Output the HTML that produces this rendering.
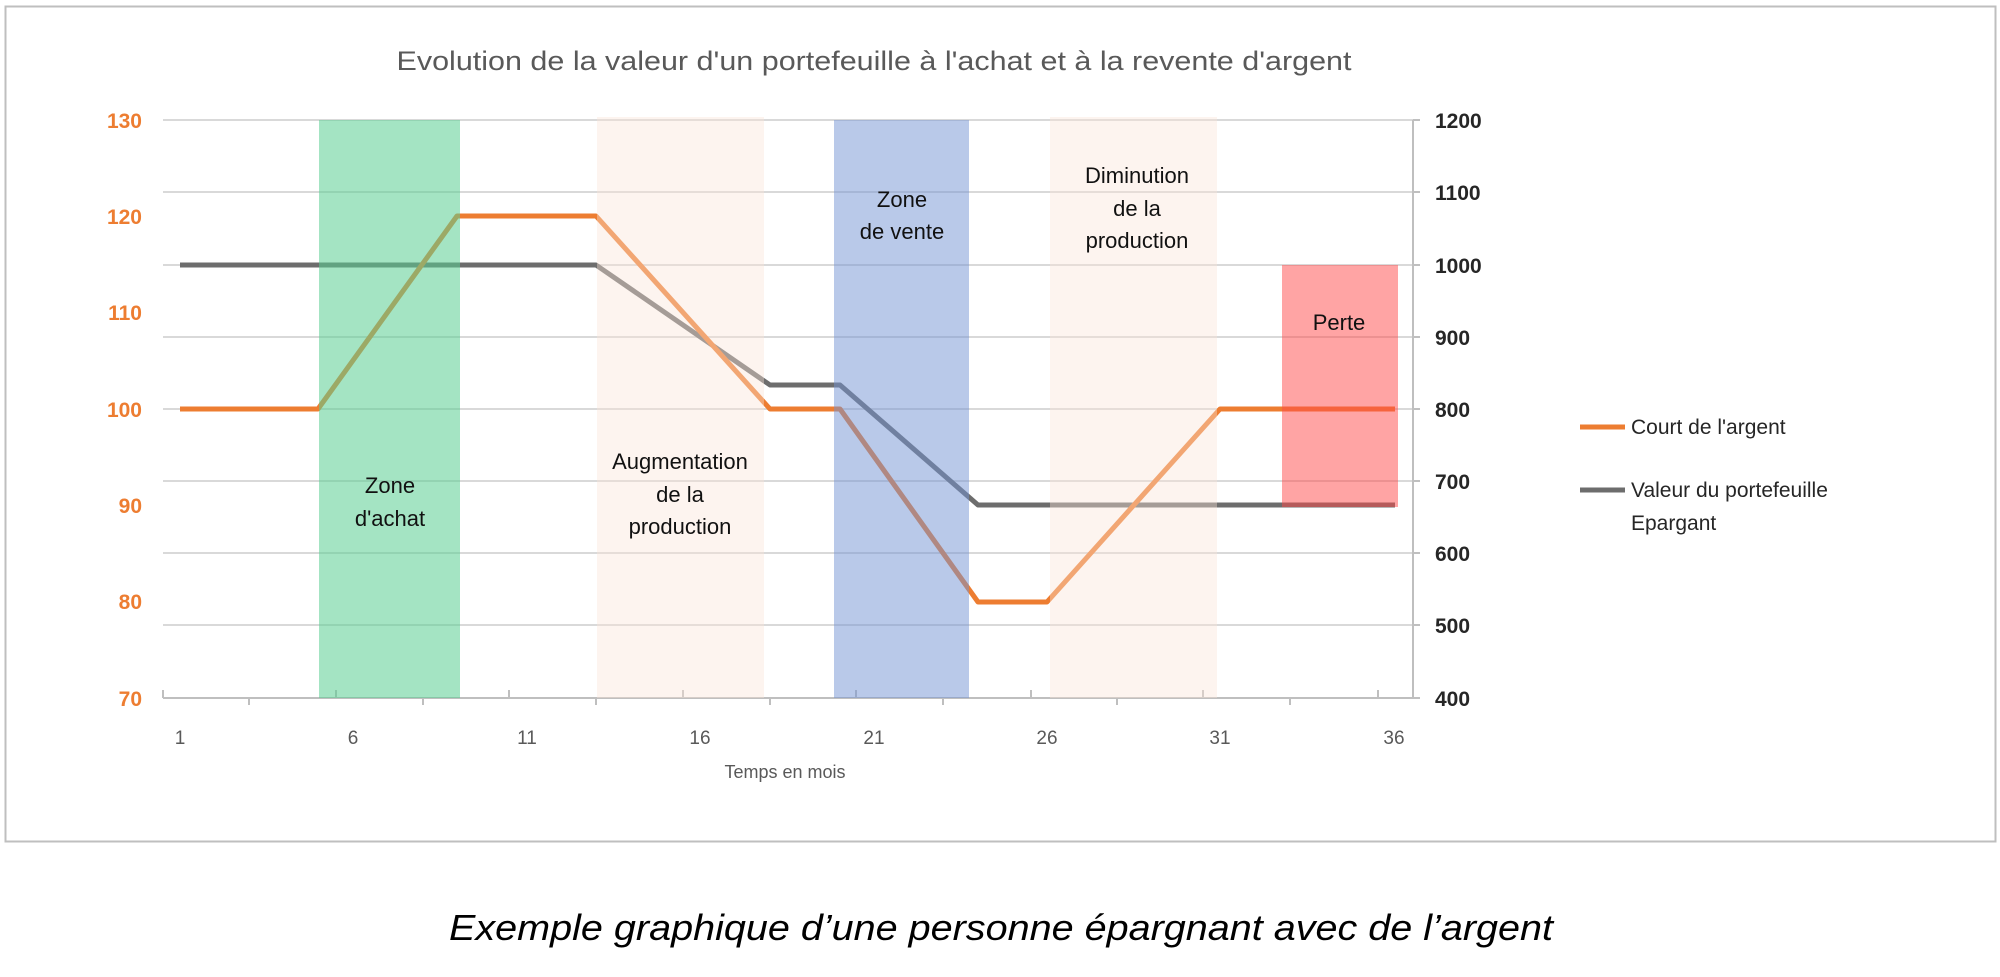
<!DOCTYPE html>
<html><head><meta charset="utf-8"><style>
html,body{margin:0;padding:0;background:#fff;}
svg{display:block;}
text{font-family:"Liberation Sans",sans-serif;}
</style></head><body>
<svg width="2000" height="977" viewBox="0 0 2000 977" xmlns="http://www.w3.org/2000/svg">
<rect x="5.5" y="6.5" width="1990" height="835" fill="#fff" stroke="#bfbfbf" stroke-width="2"/>
<text x="874" y="70" text-anchor="middle" font-size="27" fill="#595959" textLength="955" lengthAdjust="spacingAndGlyphs">Evolution de la valeur d'un portefeuille à l'achat et à la revente d'argent</text>
<g stroke="#d9d9d9" stroke-width="2">
<line x1="163" y1="120" x2="1413" y2="120"/>
<line x1="163" y1="192" x2="1413" y2="192"/>
<line x1="163" y1="265" x2="1413" y2="265"/>
<line x1="163" y1="337" x2="1413" y2="337"/>
<line x1="163" y1="409" x2="1413" y2="409"/>
<line x1="163" y1="481" x2="1413" y2="481"/>
<line x1="163" y1="553" x2="1413" y2="553"/>
<line x1="163" y1="625" x2="1413" y2="625"/>
</g>
<line x1="163" y1="698" x2="1413" y2="698" stroke="#bfbfbf" stroke-width="2"/>
<line x1="1413" y1="120" x2="1413" y2="698" stroke="#bfbfbf" stroke-width="2"/>
<g stroke="#bfbfbf" stroke-width="2">
<line x1="1413" y1="120" x2="1420" y2="120"/><line x1="1413" y1="192" x2="1420" y2="192"/><line x1="1413" y1="265" x2="1420" y2="265"/><line x1="1413" y1="337" x2="1420" y2="337"/><line x1="1413" y1="409" x2="1420" y2="409"/><line x1="1413" y1="481" x2="1420" y2="481"/><line x1="1413" y1="553" x2="1420" y2="553"/><line x1="1413" y1="625" x2="1420" y2="625"/><line x1="1413" y1="698" x2="1420" y2="698"/>
<line x1="163" y1="690" x2="163" y2="698"/><line x1="249" y1="698" x2="249" y2="705"/><line x1="336" y1="690" x2="336" y2="698"/><line x1="423" y1="698" x2="423" y2="705"/><line x1="509" y1="690" x2="509" y2="698"/><line x1="596" y1="698" x2="596" y2="705"/><line x1="683" y1="690" x2="683" y2="698"/><line x1="770" y1="698" x2="770" y2="705"/><line x1="856" y1="690" x2="856" y2="698"/><line x1="943" y1="698" x2="943" y2="705"/><line x1="1031" y1="690" x2="1031" y2="698"/><line x1="1117" y1="698" x2="1117" y2="705"/><line x1="1203" y1="690" x2="1203" y2="698"/><line x1="1290" y1="698" x2="1290" y2="705"/><line x1="1378" y1="690" x2="1378" y2="698"/>
</g>
<polyline fill="none" stroke="#6d6d6d" stroke-width="5" stroke-linejoin="round" points="180,265 596,265 770,385 840,385 978,505 1395,505"/>
<polyline fill="none" stroke="#ed7d31" stroke-width="5" stroke-linejoin="round" points="180,409 318,409 457,216 596,216 770,409 840,409 978,602 1047,602 1220,409 1395,409"/>
<rect x="319" y="120" width="141" height="578" fill="rgb(90,205,145)" opacity="0.55"/>
<rect x="597" y="117" width="167" height="581" fill="rgb(250,227,215)" opacity="0.4"/>
<rect x="834" y="120" width="135" height="578" fill="rgb(115,147,211)" opacity="0.5"/>
<rect x="1050" y="117" width="167" height="581" fill="rgb(250,227,215)" opacity="0.4"/>
<rect x="1282" y="265" width="116" height="242" fill="rgb(255,73,73)" opacity="0.5"/>
<g font-size="22" fill="#111" text-anchor="middle">
<text x="390" y="493">Zone</text><text x="390" y="526">d'achat</text>
<text x="680" y="469">Augmentation</text><text x="680" y="502">de la</text><text x="680" y="534">production</text>
<text x="902" y="207">Zone</text><text x="902" y="239">de vente</text>
<text x="1137" y="183">Diminution</text><text x="1137" y="216">de la</text><text x="1137" y="248">production</text>
<text x="1339" y="330">Perte</text>
</g>
<g font-size="21" font-weight="bold" fill="#ed7d31" text-anchor="end">
<text x="142" y="128">130</text><text x="142" y="224">120</text><text x="142" y="320">110</text><text x="142" y="417">100</text><text x="142" y="513">90</text><text x="142" y="609">80</text><text x="142" y="706">70</text>
</g>
<g font-size="21" font-weight="bold" fill="#262626">
<text x="1435" y="128">1200</text><text x="1435" y="200">1100</text><text x="1435" y="273">1000</text><text x="1435" y="345">900</text><text x="1435" y="417">800</text><text x="1435" y="489">700</text><text x="1435" y="561">600</text><text x="1435" y="633">500</text><text x="1435" y="706">400</text>
</g>
<g font-size="19" fill="#595959" text-anchor="middle">
<text x="180" y="744">1</text><text x="353" y="744">6</text><text x="527" y="744">11</text><text x="700" y="744">16</text><text x="874" y="744">21</text><text x="1047" y="744">26</text><text x="1220" y="744">31</text><text x="1394" y="744">36</text>
<text x="785" y="778" font-size="18">Temps en mois</text>
</g>
<line x1="1580" y1="427" x2="1625" y2="427" stroke="#ed7d31" stroke-width="5"/>
<text x="1631" y="434" font-size="21" fill="#262626">Court de l'argent</text>
<line x1="1580" y1="490" x2="1625" y2="490" stroke="#6d6d6d" stroke-width="5"/>
<text x="1631" y="497" font-size="21" fill="#262626">Valeur du portefeuille</text>
<text x="1631" y="530" font-size="21" fill="#262626">Epargant</text>
<text x="1001" y="940" text-anchor="middle" font-size="36" font-style="italic" fill="#000" textLength="1104" lengthAdjust="spacingAndGlyphs">Exemple graphique d’une personne épargnant avec de l’argent</text>
</svg>
</body></html>
